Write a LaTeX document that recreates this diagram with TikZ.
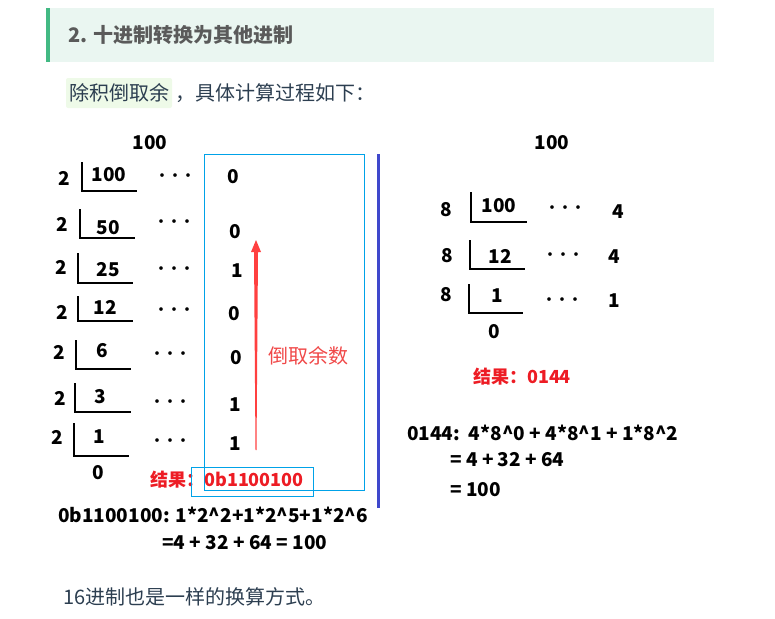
\documentclass[tikz,border=0pt]{standalone}
\usepackage{fontspec}
\setmainfont{Noto Sans CJK SC}
\usetikzlibrary{calc}
\definecolor{stripe}{RGB}{66,185,131}
\definecolor{headbg}{RGB}{234,246,241}
\definecolor{hlbg}{RGB}{238,250,232}
\definecolor{headtxt}{RGB}{90,90,90}
\definecolor{bodytxt}{RGB}{44,62,80}
\definecolor{boxblue}{RGB}{0,162,232}
\definecolor{linepurple}{RGB}{63,72,204}
\definecolor{arrred}{RGB}{255,64,64}
\definecolor{resred}{RGB}{237,28,36}
\definecolor{notered}{RGB}{240,72,72}
\begin{document}
\begin{tikzpicture}[x=1pt,y=-1pt,
  num/.style={font=\fontsize{19}{19}\selectfont\bfseries, inner sep=0pt, text=black},
  dotsn/.style={font=\fontsize{13}{13}\selectfont\bfseries, inner sep=0pt, text=black, yshift=-2pt},
  body/.style={font=\fontsize{20}{20}\selectfont, inner sep=0pt, text=bodytxt},
  dl/.style={line width=2pt, black},
  res/.style={font=\fontsize{18}{18}\selectfont\bfseries, inner sep=0pt, text=resred},
  bluebox/.style={draw=boxblue, line width=1pt}]
\useasboundingbox (0,0) rectangle (775,618);
% header
\fill[headbg] (46,8) rectangle (714,62);
\fill[stripe] (46,8) rectangle (50,62);
\node[anchor=west, inner sep=0pt, font=\fontsize{20}{20}\selectfont\bfseries, text=headtxt] (title) at (68,35) {2. 十进制转换为其他进制};
% intro line
\fill[hlbg, rounded corners=2pt] (66,78) rectangle (172,108);
\node[body, anchor=west] (hl) at (69,93) {除积倒取余};
\node[body, anchor=west] (intro) at (175,93) {，具体计算过程如下：};
% left computation
\node[num] (Ltop) at (150,143) {100};
\foreach \i/\dx/\dy/\vx/\vt/\vb/\he/\q/\qx/\qy/\ox/\oy/\r/\rx/\ry in {
  1/64/178/82/162/191/137/100/109/175/175/175/0/233/177,
  2/62/224/80/209/238/135/50/108/228/174/221/0/235/232,
  3/61/267/78/253/283/133/25/108/270/174/268/1/237/271,
  4/62/312/78/296/321/133/12/105/307/174/309/0/234/314,
  5/59/352/76/340/369/131/6/102/351/170/353/0/236/358,
  6/60/398/75/383/412/131/3/100/397/170/401/1/235/405,
  7/57/437/74/423/456/129/1/99/437/170/440/1/235/444} {
  \node[num] (Ld\i) at (\dx,\dy) {2};
  \draw[dl] (\vx,\vt) -- (\vx,\vb) -- (\he,\vb);
  \node[num] (Lq\i) at (\qx,\qy) {\q};
  \node[dotsn] (Lo\i) at (\ox,\oy) {···};
  \node[num] (Lr\i) at (\rx,\ry) {\r};
}
\node[num] (Lzero) at (98,473) {0};
% blue box with remainders
\draw[bluebox] (204,154) rectangle (364,490);
% red tapered arrow
\coordinate (atail) at (256,450);
\coordinate (ahead) at (256,240);
\fill[arrred] ($(atail)+(-0.5,0)$) -- ($(atail)+(0.5,0)$) -- ($(ahead)+(2,12)$) -- ($(ahead)+(5,12)$) -- (ahead) -- ($(ahead)+(-5,12)$) -- ($(ahead)+(-2,12)$) -- cycle;
\node[inner sep=0pt, font=\fontsize{20}{20}\selectfont, text=notered] (note) at (308,356) {倒取余数};
% result
\node[res] (Lreslab) at (177,480) {结果：};
\node[res] (Lres) at (254,479) {0b1100100};
\draw[bluebox] (191,467) rectangle (313,496);
\node[num, anchor=west] (Lf1) at (58,515) {0b1100100: 1*2\^{}2+1*2\^{}5+1*2\^{}6};
\node[num, anchor=west] (Lf2) at (162,543) {=4 + 32 + 64 = 100};
% separator
\draw[linepurple, line width=3pt] (378,154) -- (378,508);
% right computation
\node[num] (Rtop) at (552,143) {100};
\foreach \i/\dx/\dy/\vx/\vt/\vb/\he/\q/\qx/\qy/\ox/\oy/\r/\rx/\ry in {
  1/446/210/471/192/222/527/100/499/206/565/207/4/618/212,
  2/447/256/470/240/269/525/12/500/256/563/254/4/614/257,
  3/446/295/469/284/313/523/1/497/296/562/299/1/614/301} {
  \node[num] (Rd\i) at (\dx,\dy) {8};
  \draw[dl] (\vx,\vt) -- (\vx,\vb) -- (\he,\vb);
  \node[num] (Rq\i) at (\qx,\qy) {\q};
  \node[dotsn] (Ro\i) at (\ox,\oy) {···};
  \node[num] (Rr\i) at (\rx,\ry) {\r};
}
\node[num] (Rzero) at (494,332) {0};
\node[res] (Rres) at (522,377) {结果：0144};
\node[num, anchor=west] (Rf1) at (407,433) {0144:\ \ 4*8\^{}0 + 4*8\^{}1 + 1*8\^{}2};
\node[num, anchor=west] (Rf2) at (450,460) {= 4 + 32 + 64};
\node[num, anchor=west] (Rf3) at (450,490) {= 100};
% closing line
\node[body, anchor=west] (outro) at (63,597) {16进制也是一样的换算方式。};
\end{tikzpicture}
\end{document}
